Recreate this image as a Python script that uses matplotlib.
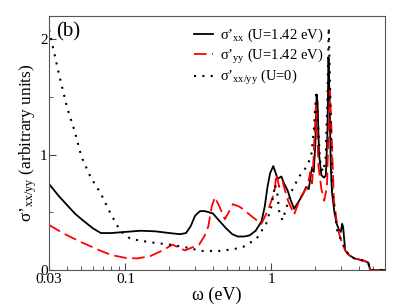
import numpy as np
import matplotlib
matplotlib.use("Agg")
import matplotlib.pyplot as plt
from matplotlib.ticker import FixedLocator, NullFormatter

plt.rcParams['font.family'] = 'serif'
plt.rcParams['font.serif'] = ['Liberation Serif', 'DejaVu Serif']
plt.rcParams['mathtext.fontset'] = 'custom'
plt.rcParams['mathtext.rm'] = 'Liberation Serif'
plt.rcParams['mathtext.it'] = 'Liberation Serif:italic'

# sigma'_xx, U=1.42 eV
w_xx = [0.03, 0.035, 0.04, 0.045, 0.05, 0.06, 0.068, 0.08, 0.1, 0.127, 0.16, 0.2,
        0.237, 0.26, 0.28, 0.3, 0.324, 0.35, 0.397, 0.43, 0.49, 0.54, 0.587, 0.65,
        0.71, 0.78, 0.855, 0.9, 0.94, 0.98, 1.03, 1.07, 1.1, 1.17, 1.22, 1.29, 1.36,
        1.43, 1.55, 1.65, 1.73, 1.8, 1.9, 1.95, 2.0, 2.04, 2.07, 2.12, 2.2, 2.29,
        2.36, 2.42, 2.46, 2.5, 2.55, 2.6, 2.7, 2.8, 2.9, 2.99, 3.05, 3.1, 3.2, 3.4,
        3.7, 4.0, 4.3, 4.6, 4.75, 6.0]
s_xx = [0.745, 0.64, 0.56, 0.49, 0.44, 0.36, 0.32, 0.32, 0.33, 0.34, 0.335, 0.32,
        0.31, 0.32, 0.38, 0.47, 0.51, 0.51, 0.49, 0.44, 0.36, 0.31, 0.29, 0.29,
        0.30, 0.34, 0.42, 0.55, 0.72, 0.84, 0.90, 0.84, 0.79, 0.81, 0.75, 0.69, 0.60,
        0.53, 0.60, 0.66, 0.72, 0.70, 0.89, 0.85, 1.10, 1.52, 1.45, 1.00, 0.82, 0.80,
        0.82, 1.20, 1.84, 1.50, 0.90, 0.67, 0.50, 0.40, 0.35, 0.33, 0.40, 0.37, 0.17, 0.13,
        0.10, 0.09, 0.08, 0.065, 0.0, 0.0]

# sigma'_yy, U=1.42 eV
w_yy = [0.03, 0.035, 0.04, 0.05, 0.068, 0.08, 0.1, 0.12, 0.148, 0.18, 0.21, 0.235,
        0.256, 0.28, 0.32, 0.35, 0.37, 0.39, 0.41, 0.44, 0.48, 0.51, 0.545, 0.6,
        0.635, 0.74, 0.855, 0.94, 1.0, 1.05, 1.08, 1.13, 1.19, 1.29, 1.43, 1.5,
        1.6, 1.76, 1.85, 1.9, 1.95, 2.02, 2.06, 2.1, 2.2, 2.3, 2.4, 2.46, 2.52,
        2.58, 2.68, 2.8, 2.9, 3.05, 3.2, 3.4, 3.7, 4.0, 4.3, 4.6, 4.75, 6.0]
s_yy = [0.39, 0.34, 0.30, 0.24, 0.165, 0.13, 0.105, 0.10, 0.12, 0.17, 0.22, 0.19,
        0.17, 0.19, 0.22, 0.30, 0.38, 0.55, 0.63, 0.55, 0.44, 0.50, 0.57, 0.55,
        0.53, 0.46, 0.40, 0.51, 0.60, 0.68, 0.83, 0.72, 0.77, 0.61, 0.48, 0.55,
        0.64, 0.72, 0.85, 0.75, 1.00, 1.45, 1.20, 0.90, 0.70, 0.60, 0.72, 1.20, 1.56,
        1.20, 0.60, 0.42, 0.32, 0.23, 0.17, 0.13, 0.10, 0.09, 0.08, 0.065, 0.0, 0.0]

# sigma'_xx/yy, U=0
w_u0 = [0.03, 0.035, 0.04, 0.045, 0.05, 0.058, 0.068, 0.079, 0.092, 0.108, 0.148,
        0.2, 0.277, 0.324, 0.44, 0.55, 0.64, 0.79, 0.92, 1.0, 1.06, 1.1, 1.13, 1.19,
        1.26, 1.37, 1.55, 1.73, 1.87, 1.95, 2.03, 2.08, 2.15, 2.25, 2.35, 2.42, 2.47,
        2.52, 2.6, 2.81, 3.0, 3.2, 3.4, 3.7, 4.0, 4.3, 4.6, 4.75, 6.0]
s_u0 = [2.08, 1.70, 1.40, 1.20, 0.98, 0.80, 0.66, 0.49, 0.34, 0.27, 0.24,
        0.22, 0.19, 0.165, 0.165, 0.18, 0.20, 0.27, 0.40, 0.55, 0.74, 0.65, 0.51, 0.43,
        0.53, 0.68, 0.81, 0.89, 0.98, 1.20, 1.55, 1.30, 0.95, 0.85, 0.95, 1.50, 2.10,
        1.60, 0.72, 0.35, 0.26, 0.18, 0.13, 0.10, 0.09, 0.08, 0.065, 0.0, 0.0]

xticks = [0.03, 0.1, 1]
xticklabels = ['0.03', '0.1', '1']
yticks = [0, 1, 2]

fig = plt.figure(figsize=(3.99, 3.08), dpi=100)
ax = fig.add_axes([0.123, 0.1234, 0.842, 0.8246])

ax.plot(w_xx, s_xx, color='black', lw=1.3,
        label="σ’$_{\\mathrm{xx}}$ (U=1.42 eV)")
ax.plot(w_yy, s_yy, color='red', lw=1.3, dashes=(7, 3),
        label="σ’$_{\\mathrm{yy}}$ (U=1.42 eV)")
ax.plot(w_u0, s_u0, color='black', lw=1.5, linestyle=(0, (1, 3)),
        label="σ’$_{\\mathrm{xx/yy}}$ (U=0)")

ax.set_xscale('log')
ax.set_xlim(0.03, 6)
ax.set_ylim(0, 2.2)
ax.xaxis.set_major_locator(FixedLocator(xticks))
ax.set_xticklabels(xticklabels)
minors = [v * d for d in (0.01, 0.1, 1) for v in range(2, 10)]
ax.xaxis.set_minor_locator(FixedLocator([m for m in minors if 0.03 < m < 6]))
ax.xaxis.set_minor_formatter(NullFormatter())
ax.set_yticks(yticks)
ax.set_yticks([0.5, 1.5], minor=True)
ax.tick_params(which='both', direction='in', top=False, right=False, labelsize=11,
               color='#444444')
ax.tick_params(axis='x', pad=2)
ax.tick_params(axis='y', pad=1)
ax.tick_params(which='major', length=5)
ax.tick_params(which='minor', length=3)
for sp in ax.spines.values():
    sp.set_color('#555555')

ax.set_xlabel('ω (eV)', fontsize=13, labelpad=1)
ax.set_ylabel("σ’$_{\\mathrm{xx/yy}}$ (arbitrary units)", fontsize=12.5, labelpad=1)
ax.text(0.022, 0.975, '(b)', transform=ax.transAxes, fontsize=15, va='top', ha='left')

ax.legend(loc='upper left', bbox_to_anchor=(0.41, 0.985), frameon=False, fontsize=10.5,
          handlelength=1.3, handletextpad=0.5, borderpad=0, labelspacing=0.15)

fig.savefig('out.png', dpi=100)
